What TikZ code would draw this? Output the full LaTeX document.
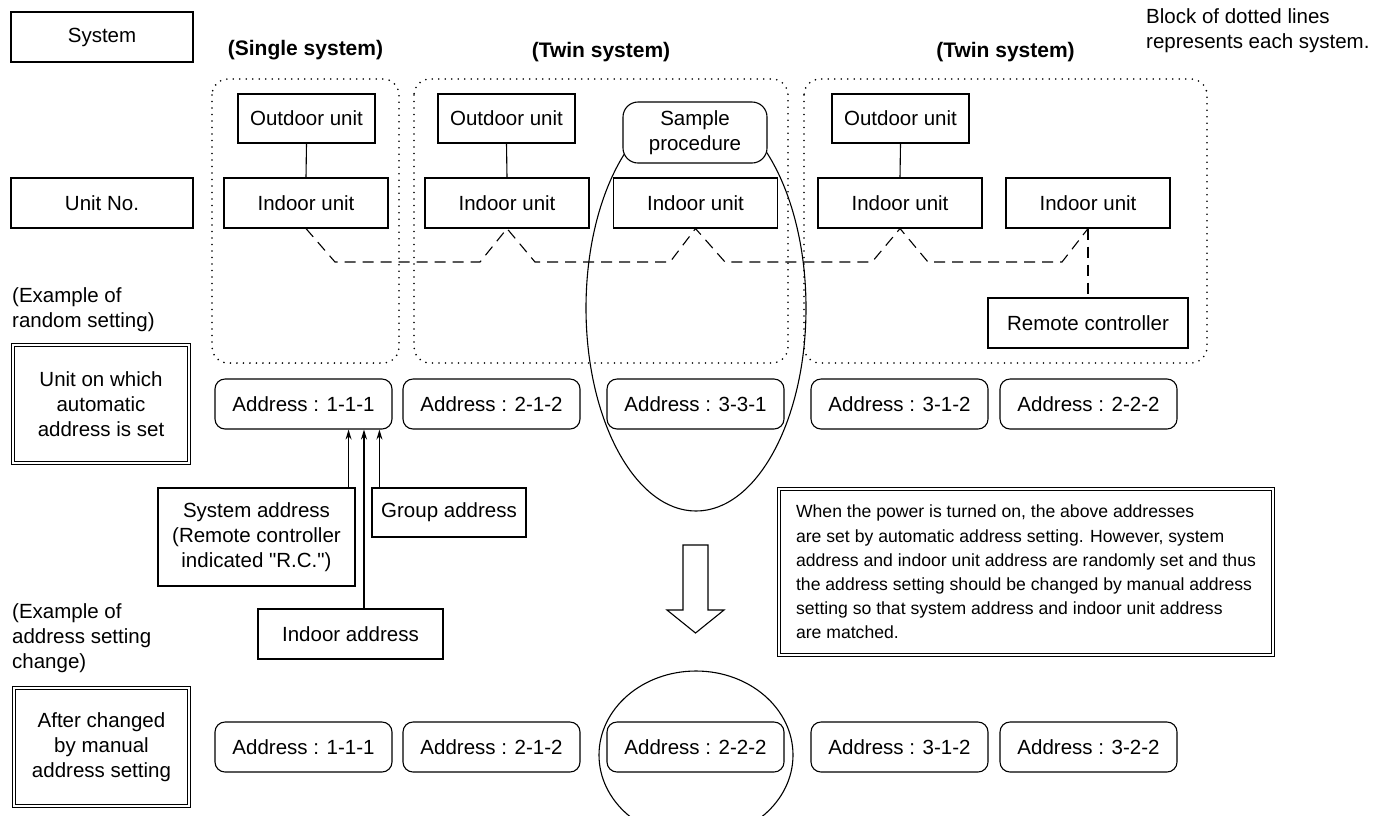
\documentclass[tikz,border=0pt]{standalone}
\usepackage{fontspec}
\setmainfont{Liberation Sans}
\usetikzlibrary{arrows.meta,shapes.geometric}
\begin{document}
\begin{tikzpicture}[x=1pt,y=-1pt,
  every node/.style={font=\fontsize{20.5}{25}\selectfont, inner sep=0pt, align=center},
  sbox/.style={draw, line width=1.1pt, fill=white},
  rbox/.style={draw, line width=1.1pt, rounded corners=10pt, fill=white, minimum width=177pt, minimum height=50pt},
  dbox/.style={draw, double, line width=0.9pt, double distance=2pt},
  dotbox/.style={line width=1.8pt, dash pattern=on 0pt off 6.5pt, line cap=round, rounded corners=16pt},
  dline/.style={line width=1.1pt, dash pattern=on 11pt off 7pt},
  arr/.style={line width=1.1pt, -{Stealth[length=10pt,width=6pt]}},
  thin/.style={line width=1.1pt},
  outd/.style={sbox, minimum width=137pt, minimum height=49pt},
  ind/.style={sbox, minimum width=164pt, minimum height=50pt},
  title/.style={font=\bfseries\fontsize{21}{25}\selectfont},
]
\useasboundingbox (0,0) rectangle (1380,815);

% system blocks (dotted)
\draw[dotbox] (212,79) rectangle (399,363);
\draw[dotbox] (414,79) rectangle (788,363);
\draw[dotbox] (804,79) rectangle (1207,363);

% ellipses
\node[draw, thin, ellipse, minimum width=220pt, minimum height=406pt] (bigell) at (696,308) {};
\node[draw, thin, ellipse, minimum width=194pt, minimum height=168pt] (smallell) at (696,755) {};

% left labels
\node[sbox, minimum width=182pt, minimum height=50pt] (sys) at (102,37) {System};
\node[sbox, minimum width=182pt, minimum height=50pt] (unitno) at (102,203) {Unit No.};
\node[anchor=west, align=left] (ex1) at (12,310) {(Example of\\random setting)};
\node[dbox, minimum width=176pt, minimum height=118pt] (unitset) at (101,404) {Unit on which\\automatic\\address is set};
\node[anchor=west, align=left] (ex2) at (12,638) {(Example of\\address setting\\change)};
\node[dbox, minimum width=175pt, minimum height=118pt] (after) at (101.5,747) {After changed\\by manual\\address setting};

% titles
\node[title] (t1) at (305.5,50) {(Single system)};
\node[title] (t2) at (601,52) {(Twin system)};
\node[title] (t3) at (1005.5,52) {(Twin system)};
\node[anchor=west, align=left] (note1) at (1146,31) {Block of dotted lines\\represents each system.};

% units
\node[outd] (od1) at (306.5,118.5) {Outdoor unit};
\node[outd] (od2) at (506.5,118.5) {Outdoor unit};
\node[outd] (od3) at (900.5,118.5) {Outdoor unit};
\node[sbox, rounded corners=15pt, minimum width=144pt, minimum height=61pt] (sp) at (695,132.5) {Sample\\procedure};
\node[ind] (in1) at (306,203) {Indoor unit};
\node[ind] (in2) at (507,203) {Indoor unit};
\node[ind] (in3) at (695.5,203) {Indoor unit};
\node[ind] (in4) at (900,203) {Indoor unit};
\node[ind] (in5) at (1088,203) {Indoor unit};
\node[sbox, minimum width=200pt, minimum height=50pt] (rc) at (1088,323) {Remote controller};

% addresses row 1
\node[rbox] (a1) at (303.5,404) {Address : 1-1-1};
\node[rbox] (a2) at (491.5,404) {Address : 2-1-2};
\node[rbox] (a3) at (695.5,404) {Address : 3-3-1};
\node[rbox] (a4) at (899.5,404) {Address : 3-1-2};
\node[rbox] (a5) at (1088.5,404) {Address : 2-2-2};
% addresses row 2
\node[rbox] (b1) at (303.5,747) {Address : 1-1-1};
\node[rbox] (b2) at (491.5,747) {Address : 2-1-2};
\node[rbox] (b3) at (695.5,747) {Address : 2-2-2};
\node[rbox] (b4) at (899.5,747) {Address : 3-1-2};
\node[rbox] (b5) at (1088.5,747) {Address : 3-2-2};

% address parts
\node[sbox, minimum width=197pt, minimum height=98pt] (sa) at (256.5,537) {System address\\(Remote controller\\indicated \textquotedbl R.C.\textquotedbl)};
\node[sbox, minimum width=154pt, minimum height=49pt] (ga) at (449,512.5) {Group address};
\node[sbox, minimum width=185pt, minimum height=50pt] (ia) at (350.5,634) {Indoor address};

% explanation
\node[dbox, minimum width=494pt, minimum height=166pt, align=left, font=\fontsize{17.6}{24.2}\selectfont] (expl) at (1026,572)
 {When the power is turned on, the above addresses\\
  are set by automatic address setting. However, system\\
  address and indoor unit address are randomly set and thus\\
  the address setting should be changed by manual address\\
  setting so that system address and indoor unit address\\
  are matched.};

% hollow arrow
\draw[thin, fill=white] (683,545) -- (708,545) -- (708,610) -- (724,610) -- (695.5,633) -- (667,610) -- (683,610) -- cycle;

% connectors
\draw[thin] (od1.south) -- (in1.north);
\draw[thin] (od2.south) -- (in2.north);
\draw[thin] (od3.south) -- (in4.north);

\coordinate (d0) at (335,262);
\coordinate (d1) at (480,262);
\coordinate (d2) at (535,262);
\coordinate (d3) at (670,262);
\coordinate (d4) at (725,262);
\coordinate (d5) at (872,262);
\coordinate (d6) at (928,262);
\coordinate (d7) at (1062,262);
\draw[dline] (in1.south) -- (d0) -- (d1) -- (in2.south) -- (d2) -- (d3) -- (in3.south) -- (d4) -- (d5) -- (in4.south) -- (d6) -- (d7) -- (in5.south);
\draw[dline] (in5.south) -- (rc.north);

\draw[arr] ([xshift=-7pt]sa.north east) -- ([xshift=-7pt]sa.north east |- a1.south);
\draw[arr] ([xshift=13.5pt]ia.north) -- ([xshift=13.5pt]ia.north |- a1.south);
\draw[arr] ([xshift=8pt]ga.north west) -- ([xshift=8pt]ga.north west |- a1.south);
\end{tikzpicture}
\end{document}
